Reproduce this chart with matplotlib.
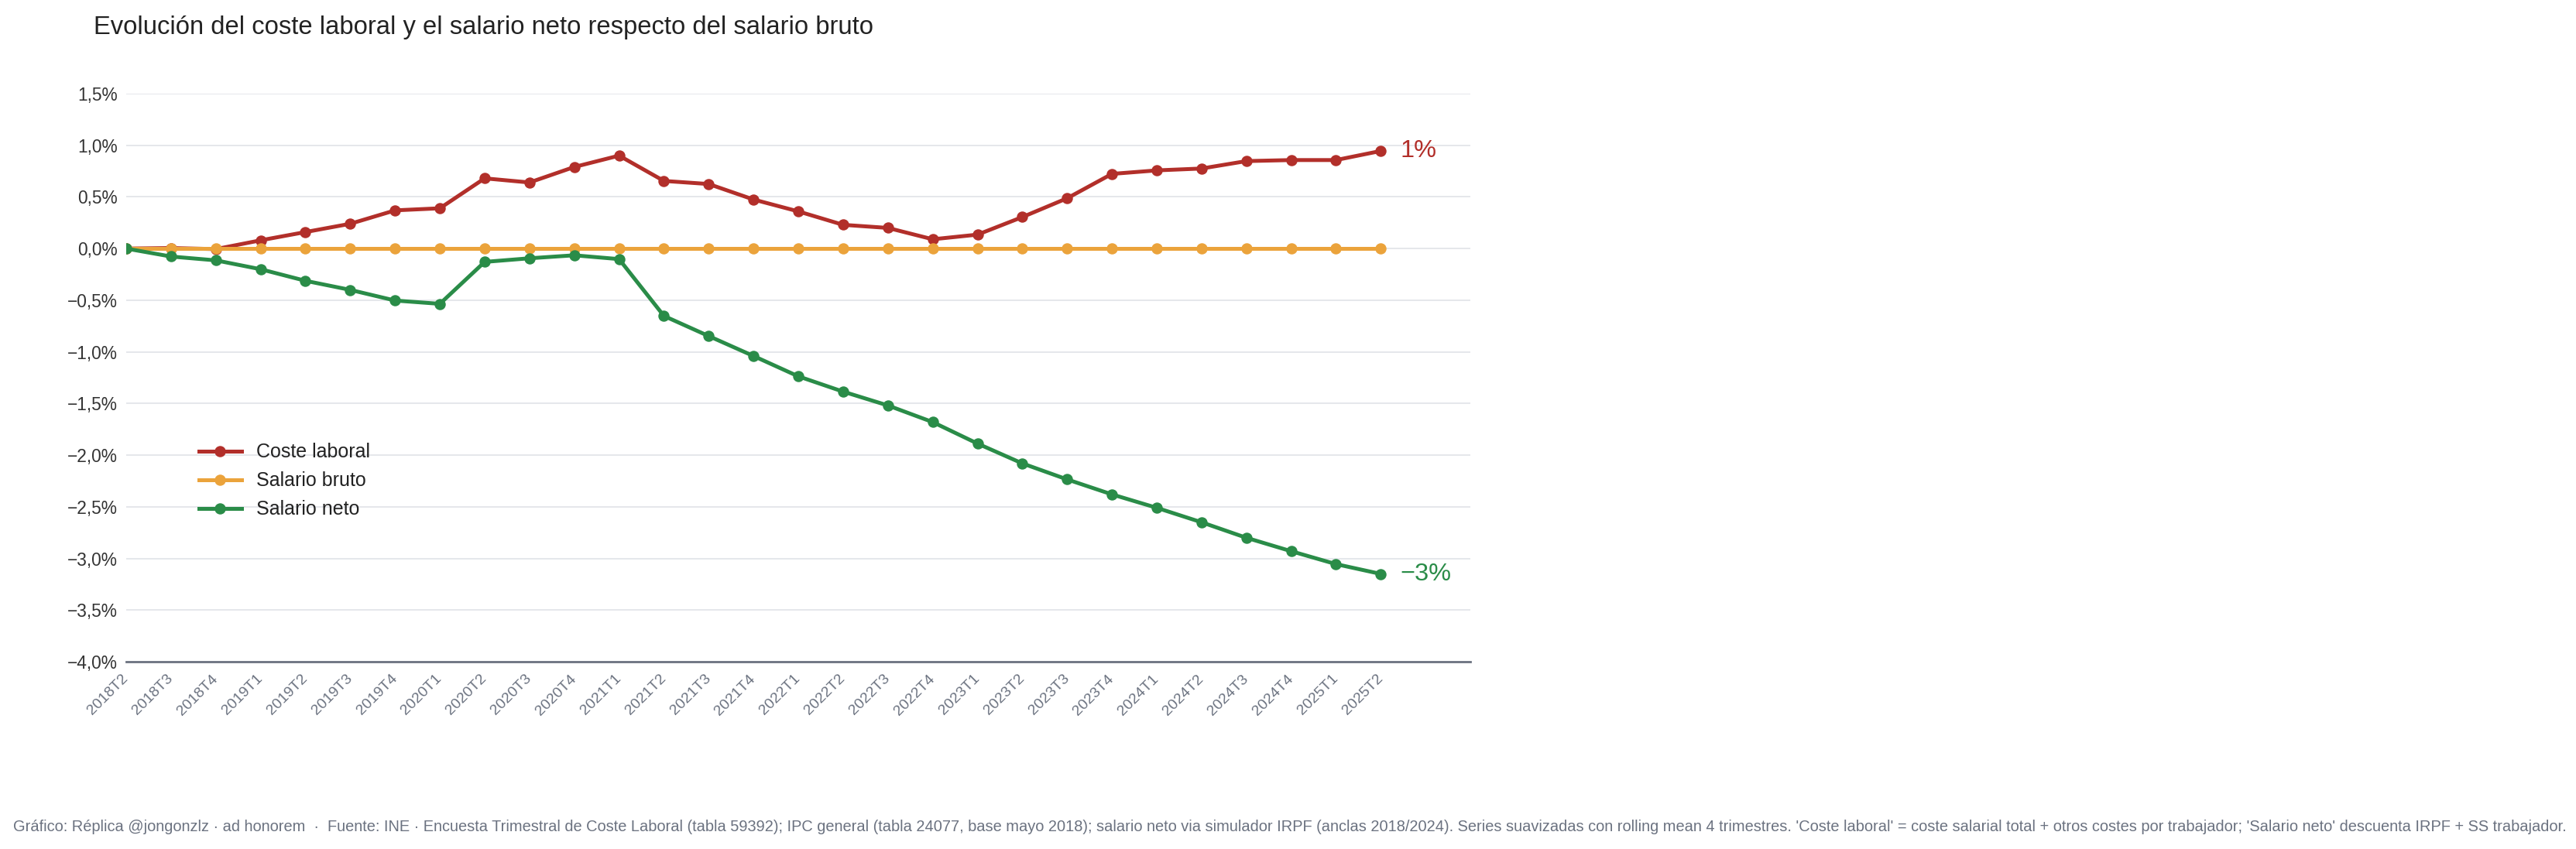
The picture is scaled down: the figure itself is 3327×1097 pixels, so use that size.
import matplotlib
matplotlib.use('Agg')
import matplotlib.pyplot as plt
from matplotlib.ticker import FuncFormatter

plt.rcParams['font.family'] = ['Liberation Sans', 'DejaVu Sans']

# trimestres
trimestres = ['2018T2', '2018T3', '2018T4',
              '2019T1', '2019T2', '2019T3', '2019T4',
              '2020T1', '2020T2', '2020T3', '2020T4',
              '2021T1', '2021T2', '2021T3', '2021T4',
              '2022T1', '2022T2', '2022T3', '2022T4',
              '2023T1', '2023T2', '2023T3', '2023T4',
              '2024T1', '2024T2', '2024T3', '2024T4',
              '2025T1', '2025T2']

# % respecto del salario bruto
coste_laboral = [0.00, 0.005, -0.005, 0.08, 0.16, 0.24, 0.37, 0.39, 0.68, 0.64, 0.79,
                 0.90, 0.655, 0.625, 0.475, 0.36, 0.23, 0.20, 0.09, 0.135, 0.305, 0.487,
                 0.723, 0.757, 0.775, 0.847, 0.857, 0.857, 0.945]
salario_bruto = [0.0] * len(trimestres)
salario_neto = [0.00, -0.077, -0.114, -0.20, -0.312, -0.40, -0.503, -0.535, -0.129, -0.094,
                -0.065, -0.102, -0.652, -0.847, -1.04, -1.237, -1.385, -1.519, -1.68, -1.888,
                -2.08, -2.235, -2.38, -2.51, -2.65, -2.80, -2.93, -3.055, -3.15]

series = [('Coste laboral', coste_laboral, '#b22f2a'),
          ('Salario bruto', salario_bruto, '#eba33b'),
          ('Salario neto', salario_neto, '#2a8c48')]

fig = plt.figure(figsize=(16.635, 5.485), dpi=200)
ax = fig.add_axes([0.049, 0.2206, 0.5218, 0.6691])

x = list(range(len(trimestres)))
for nombre, vals, col in series:
    ax.plot(x, vals, color=col, lw=1.8, marker='o', ms=4.2, label=nombre)

# etiquetas al final de las series con valor distinto de cero
for nombre, vals, col in series:
    if nombre == 'Salario bruto':
        continue
    txt = f"{round(vals[-1]):.0f}%".replace('-', '\u2212')
    ax.annotate(txt, (x[-1], vals[-1]), xytext=(9, 0), textcoords='offset points',
                color=col, fontsize=11.7, va='center', ha='left')

ax.set_xlim(0, 30)
ax.set_ylim(-4, 1.5)
ax.set_yticks([i * 0.5 for i in range(-8, 4)])
ax.yaxis.set_major_formatter(FuncFormatter(
    lambda v, p: f"{v:.1f}%".replace('.', ',').replace('-', '\u2212')))
ax.set_xticks(x)
ax.set_xticklabels(trimestres, rotation=45, ha='right', va='center', rotation_mode='anchor')

ax.tick_params(axis='y', length=0, labelsize=8.2, labelcolor='#333333', pad=4)
ax.tick_params(axis='x', length=0, labelsize=7, labelcolor='#6b7280', pad=7)
ax.grid(axis='y', color='#e5e7eb', lw=0.7)
ax.set_axisbelow(True)
for s in ['top', 'right', 'left']:
    ax.spines[s].set_visible(False)
ax.spines['bottom'].set_color('#6b7280')
ax.spines['bottom'].set_linewidth(1.0)

leg = ax.legend(loc='upper left', bbox_to_anchor=(0.054, 0.385), frameon=False,
                fontsize=9, borderpad=0, borderaxespad=0, handlelength=2.2,
                handletextpad=0.75, labelspacing=0.52)
for t in leg.get_texts():
    t.set_color('#222222')

fig.text(0.0364, 0.968, 'Evolución del coste laboral y el salario neto respecto del salario bruto',
         fontsize=11.8, color='#222222', ha='left', va='center')

fig.text(0.005, 0.026,
         "Gráfico: Réplica @jongonzlz · ad honorem  ·  Fuente: INE · Encuesta Trimestral de Coste Laboral "
         "(tabla 59392); IPC general (tabla 24077, base mayo 2018); salario neto via simulador IRPF "
         "(anclas 2018/2024). Series suavizadas con rolling mean 4 trimestres. 'Coste laboral' = coste "
         "salarial total + otros costes por trabajador; 'Salario neto' descuenta IRPF + SS trabajador.",
         fontsize=7.2, color='#6b7280', ha='left', va='center')

fig.savefig('out.png', dpi=200, facecolor='white')
